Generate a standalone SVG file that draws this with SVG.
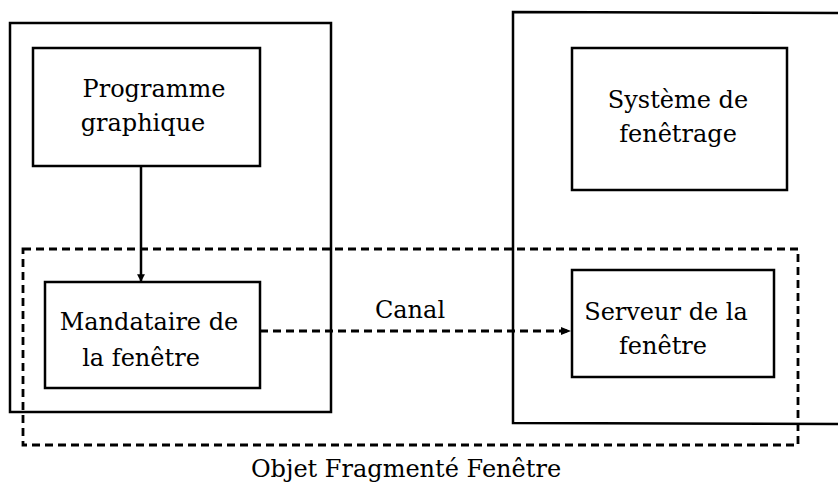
<svg xmlns="http://www.w3.org/2000/svg" width="838" height="486" viewBox="0 0 838 486">
<style>
.box{fill:none;stroke:#000;stroke-width:2.5}
.dash{fill:none;stroke:#000;stroke-width:2.8;stroke-dasharray:8 5}
.t{font-family:"DejaVu Serif","Liberation Serif",serif;font-size:24px;fill:#000;text-anchor:middle}
</style>
<defs>
<marker id="ah" viewBox="0 0 10 10" refX="10" refY="5" markerWidth="12" markerHeight="10" markerUnits="userSpaceOnUse" orient="auto">
<path d="M0,1 L10,5 L0,9 Z" fill="#000"/>
</marker>
<marker id="ahv" viewBox="0 0 10 14" refX="10" refY="7" markerWidth="15" markerHeight="11" markerUnits="userSpaceOnUse" orient="auto">
<path d="M0,2 L10,7 L0,12 Z" fill="#000"/>
</marker>
</defs>
<rect width="838" height="486" fill="#fff"/>
<g id="host-left">
<rect class="box" x="10" y="23" width="321" height="389"/>
</g>
<g id="host-right">
<path class="box" d="M838,13 L513,12 L513,423 L838,424"/>
</g>
<g id="fragmented-object">
<rect class="dash" x="23" y="249" width="775" height="196"/>
<text class="t" x="406" y="477">Objet Fragmenté Fenêtre</text>
</g>
<g id="programme">
<rect class="box" x="33" y="48" width="227" height="118"/>
<text class="t" x="154" y="97">Programme</text>
<text class="t" x="143" y="131">graphique</text>
</g>
<g id="mandataire">
<rect class="box" x="45" y="282" width="215" height="106"/>
<text class="t" x="149" y="330">Mandataire de</text>
<text class="t" x="141" y="366">la fenêtre</text>
</g>
<g id="systeme">
<rect class="box" x="572" y="48" width="215" height="142"/>
<text class="t" x="678" y="108">Système de</text>
<text class="t" x="678" y="142">fenêtrage</text>
</g>
<g id="serveur">
<rect class="box" x="572" y="270" width="202" height="107"/>
<text class="t" x="666" y="320">Serveur de la</text>
<text class="t" x="663" y="354">fenêtre</text>
</g>
<g id="connectors">
<line x1="141" y1="166" x2="141" y2="282" stroke="#000" stroke-width="2.5" marker-end="url(#ahv)"/>
<line class="dash" x1="260" y1="331" x2="571" y2="331" marker-end="url(#ah)"/>
<text class="t" x="410" y="318">Canal</text>
</g>
</svg>
